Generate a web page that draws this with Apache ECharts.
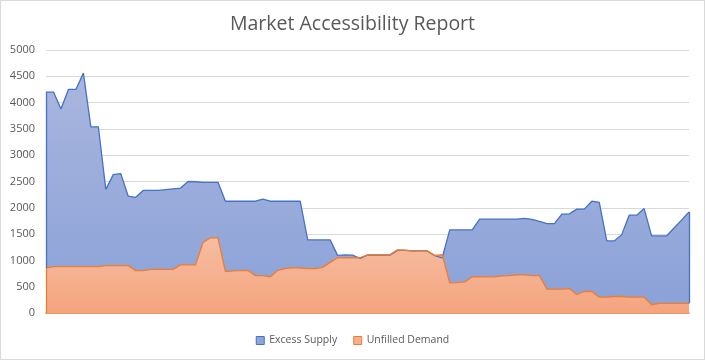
<!DOCTYPE html>
<html><head><meta charset="utf-8">
<script src="https://cdn.jsdelivr.net/npm/echarts@6/dist/echarts.min.js"></script>
<style>html,body{margin:0;padding:0;background:#fff}#c{width:705px;height:360px;box-sizing:border-box;border:1px solid #d9d9d9}</style>
</head><body><div id="c"></div>
<script>
const categories = Array.from({length: 87}, (_, i) => String(i + 1));
const excessSupply = [4200,4200,3880,4250,4250,4560,3540,3540,2350,2630,2650,2220,2200,2330,2330,2330,2345,2360,2375,2500,
  2495,2485,2485,2485,2125,2125,2125,2125,2125,2165,2125,2125,2125,2125,2125,1390,1390,1390,1390,1095,
  1105,1100,1040,1100,1100,1100,1100,1190,1190,1180,1180,1180,1090,1050,1580,1580,1580,1580,1785,1785,
  1785,1785,1785,1785,1800,1780,1740,1700,1700,1880,1885,1975,1975,2125,2105,1370,1370,1490,1860,1860,
  1985,1465,1465,1465,1615,1765,1920];
const unfilledDemand = [855,880,880,880,880,880,880,880,900,900,900,900,805,805,830,830,830,830,915,915,
  915,1340,1430,1430,785,800,805,812,711,711,686,812,843,862,855,843,843,868,962,1050,
  1050,1050,1050,1107,1107,1107,1107,1200,1195,1182,1182,1182,1094,1107,572,578,591,686,686,686,
  686,704,711,723,723,711,711,453,453,453,465,352,409,409,302,302,314,314,302,302,
  302,157,182,182,182,182,182];
const yTicks = {min: 0, max: 5000, interval: 500};

const last = categories.length - 1;
const chart = echarts.init(document.getElementById('c'), null, {renderer: 'canvas'});
const grad = (a, b) => new echarts.graphic.LinearGradient(0, 0, 0, 1, [{offset: 0, color: a}, {offset: 1, color: b}]);
chart.setOption({
  animation: false,
  title: {text: 'Market Accessibility Report', left: 'center', top: 8,
    textStyle: {fontFamily: 'Open Sans', fontSize: 19.5, fontWeight: 'normal', color: '#595959'}},
  legend: {bottom: 8, left: 'center', itemWidth: 8, itemHeight: 8, itemGap: 16,
    textStyle: {fontFamily: 'Open Sans', fontSize: 10.5, color: '#595959'},
    data: [{name: 'Excess Supply', icon: 'rect', itemStyle: {color: '#8fa3d8', borderColor: '#4472c4', borderWidth: 1}},
           {name: 'Unfilled Demand', icon: 'rect', itemStyle: {color: '#f5b08e', borderColor: '#ed7d31', borderWidth: 1}}]},
  grid: {left: 45, right: 15, top: 49, bottom: 46},
  xAxis: {type: 'category', data: categories, boundaryGap: false,
    axisLine: {lineStyle: {color: '#ed7d31', width: 1.5}}, axisTick: {show: false}, axisLabel: {show: false}},
  yAxis: {type: 'value', min: yTicks.min, max: yTicks.max, interval: yTicks.interval,
    axisLine: {show: false}, axisTick: {show: false},
    axisLabel: {fontFamily: 'Open Sans', fontSize: 11, color: '#595959', margin: 11, formatter: v => String(v)},
    splitLine: {lineStyle: {color: '#d9d9d9', width: 1}}},
  series: [
    {name: 'Excess Supply', type: 'line', data: excessSupply, symbol: 'none',
     lineStyle: {color: '#4472c4', width: 1.3}, itemStyle: {color: '#4472c4'},
     areaStyle: {color: grad('#a9b6de', '#8aa1d8'), opacity: 1},
     markLine: {silent: true, symbol: 'none', label: {show: false}, lineStyle: {color: '#4472c4', width: 1.3, type: 'solid'},
       data: [[{coord: [0, unfilledDemand[0]]}, {coord: [0, excessSupply[0]]}],
              [{coord: [last, unfilledDemand[last]]}, {coord: [last, excessSupply[last]]}]]}},
    {name: 'Unfilled Demand', type: 'line', data: unfilledDemand, symbol: 'none',
     lineStyle: {color: '#ed7d31', width: 1.3}, itemStyle: {color: '#ed7d31'},
     areaStyle: {color: grad('#f6bda1', '#f4a47e'), opacity: 1},
     markLine: {silent: true, symbol: 'none', label: {show: false}, lineStyle: {color: '#ed7d31', width: 1.3, type: 'solid'},
       data: [[{coord: [0, 0]}, {coord: [0, unfilledDemand[0]]}]]}}
  ]
});
</script></body></html>
